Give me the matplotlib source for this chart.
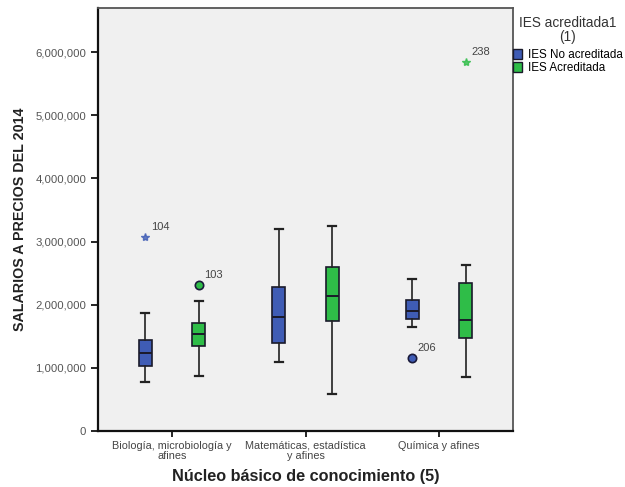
import matplotlib
matplotlib.use("Agg")
import matplotlib.pyplot as plt
from matplotlib.patches import Patch
from matplotlib.ticker import FuncFormatter

plt.rcParams["font.family"] = ["Liberation Sans", "DejaVu Sans"]

# ===== datos =====
categorias = ["Biología, microbiología y\nafines",
              "Matemáticas, estadística\ny afines",
              "Química y afines"]
grupos = ["IES No acreditada", "IES Acreditada"]
colores = ["#3f5cb5", "#2fbd48"]

# resumen de cajas por grupo: (bigote inf, Q1, mediana, Q3, bigote sup)
no_acred = [(780000, 1030000, 1230000, 1440000, 1870000),
            (1090000, 1390000, 1800000, 2280000, 3200000),
            (1640000, 1770000, 1900000, 2070000, 2400000)]
acred = [(870000, 1350000, 1530000, 1710000, 2060000),
         (585000, 1750000, 2140000, 2600000, 3250000),
         (860000, 1480000, 1760000, 2340000, 2630000)]

# atípicos: (categoría, grupo, valor, marcador, etiqueta)
atipicos = [(0, 0, 3080000, "*", "104"),
            (0, 1, 2320000, "o", "103"),
            (2, 0, 1150000, "o", "206"),
            (2, 1, 5850000, "*", "238")]
# =================

DESP = 0.2

fig = plt.figure(figsize=(6.25, 4.87), dpi=100)
ax = fig.add_axes([0.1568, 0.115, 0.664, 0.8686])
ax.set_facecolor("#f0f0f0")

for g, (datos, color) in enumerate(zip([no_acred, acred], colores)):
    stats = [dict(whislo=d[0], q1=d[1], med=d[2], q3=d[3], whishi=d[4])
             for d in datos]
    pos = [i + (g - 0.5) * 2 * DESP for i in range(len(categorias))]
    ax.bxp(stats, positions=pos, widths=0.1, capwidths=0.06,
           showfliers=False, patch_artist=True,
           boxprops=dict(facecolor=color, edgecolor="#1a1a2a", lw=1.2),
           medianprops=dict(color="#1a1a2a", lw=1.4),
           whiskerprops=dict(color="#222222", lw=1.2),
           capprops=dict(color="#222222", lw=1.6))

for cat, g, val, mk, etiq in atipicos:
    x = cat + (g - 0.5) * 2 * DESP
    if mk == "o":
        ax.plot(x, val, "o", ms=6, mfc=colores[g], mec="#1a1a3a", mew=1.2)
    else:
        ax.plot(x, val, "*", ms=6, color=colores[g], alpha=0.8)
    ax.annotate(etiq, xy=(x, val), xytext=(4, 5), textcoords="offset points",
                fontsize=8, color="#444444")

ax.set_xlim(-0.555, 2.555)
ax.set_ylim(0, 6700000)
ax.set_xticks(range(len(categorias)))
ax.set_xticklabels(categorias, fontsize=7.8, color="#444444", linespacing=1.05)
ax.set_yticks(range(0, 7000000, 1000000))
ax.yaxis.set_major_formatter(FuncFormatter(lambda v, p: f"{int(v):,}"))
ax.tick_params(axis="y", labelsize=8.2, labelcolor="#555555", length=5, width=1.2)
ax.tick_params(axis="x", length=4, width=1.2, pad=3)

for s in ("left", "bottom"):
    ax.spines[s].set_linewidth(1.6)
    ax.spines[s].set_color("#111111")
for s in ("top", "right"):
    ax.spines[s].set_linewidth(1.3)
    ax.spines[s].set_color("#555555")

ax.set_ylabel("SALARIOS A PRECIOS DEL 2014", fontsize=10.3, fontweight="bold",
              color="#222222", labelpad=6)
ax.set_xlabel("Núcleo básico de conocimiento (5)", fontsize=11.7,
              fontweight="bold", color="#222222", labelpad=6)

# leyenda: título centrado arriba y entradas debajo
fig.text(568 / 625, 1 - 23 / 487, "IES acreditada1", ha="center", va="center",
         fontsize=9.8, color="#333333")
fig.text(568 / 625, 1 - 37 / 487, "(1)", ha="center", va="center",
         fontsize=9.8, color="#333333")
handles = [Patch(facecolor=c, edgecolor="#1a1a2a", label=n)
           for c, n in zip(colores, grupos)]
fig.legend(handles=handles, loc="upper left",
           bbox_to_anchor=(513 / 625, 1 - 49 / 487),
           frameon=False, fontsize=8.4, borderpad=0, borderaxespad=0,
           handlelength=0.8, handleheight=0.9, handletextpad=0.5,
           labelspacing=0.1)

fig.savefig("out.png", dpi=100)
